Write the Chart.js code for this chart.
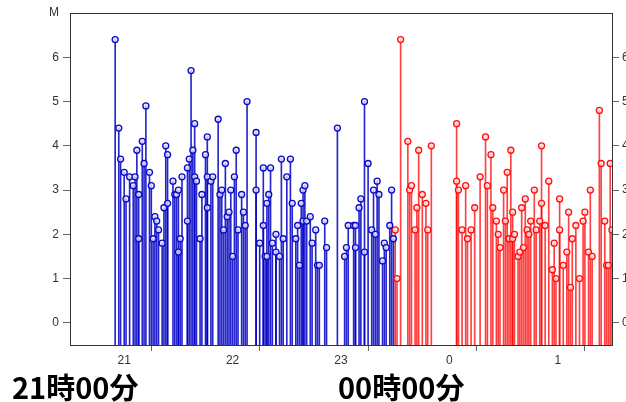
<!DOCTYPE html>
<html>
<head>
<meta charset="utf-8">
<script src="https://cdn.jsdelivr.net/npm/chart.js@4.4.0/dist/chart.umd.min.js"></script>
<style>
    body { margin: 0; background: #fff; }
    #wrap { position: relative; width: 626px; height: 402px; }
    .bigLabel {
        position: absolute;
        font-family: "Noto Sans CJK JP", sans-serif;
        font-weight: bold;
        font-size: 29px;
        line-height: 29px;
        color: #000;
        white-space: nowrap;
    }
</style>
</head>
<body>
<div id="wrap">
    <canvas id="myChartQuakes" width="626" height="402"></canvas>
    <div class="bigLabel" style="left: 12px; top: 372px;">21時00分</div>
    <div class="bigLabel" style="left: 338px; top: 372px;">00時00分</div>
</div>
<script>
//DATA
//blue: minutes after 21:00, red: minutes after 00:00
const blueMinutes = [25, 27, 28, 30, 31, 33, 35, 36, 37, 38, 38, 40, 41, 42, 44, 45, 46, 47, 48, 49,
    51, 52, 53, 54, 54, 57, 58, 59, 60, 60, 61, 62, 65, 65, 66, 67, 68, 69, 69, 70,
    72, 73, 75, 76, 76, 76, 78, 79, 82, 83, 84, 85, 86, 87, 88, 89, 90, 91, 92, 93,
    95, 96, 97, 98, 103, 103, 105, 107, 107, 108, 109, 109, 110, 111, 112, 114, 114, 116, 117, 118,
    120, 122, 123, 125, 126, 127, 128, 129, 129, 130, 131, 133, 134, 136, 137, 138, 141, 142, 148, 152,
    153, 154, 157, 158, 158, 160, 161, 163, 163, 165, 167, 168, 169, 170, 171, 173, 174, 175, 177, 178, 179];
const blueMagnitudes = [6.4, 4.4, 3.7, 3.4, 2.8, 3.3, 3.1, 3.3, 3.9, 2.9, 1.9, 4.1, 3.6, 4.9, 3.4, 3.1, 1.9, 2.4, 2.3, 2.1,
    1.8, 2.6, 4.0, 3.8, 2.7, 3.2, 2.9, 2.9, 3.0, 1.6, 1.9, 3.3, 3.5, 2.3, 3.7, 5.7, 3.9, 4.5, 3.3, 3.2,
    1.9, 2.9, 3.8, 4.2, 3.3, 2.6, 3.2, 3.3, 4.6, 2.9, 3.0, 2.1, 3.6, 2.4, 2.5, 3.0, 1.5, 3.3, 3.9, 2.1,
    2.9, 2.5, 2.2, 5.0, 4.3, 3.0, 1.8, 3.5, 2.2, 1.5, 2.7, 1.5, 2.9, 3.5, 1.8, 2.0, 1.6, 1.5, 3.7, 1.9,
    3.3, 3.7, 2.7, 1.9, 2.2, 1.3, 2.7, 3.0, 2.3, 3.1, 2.3, 2.4, 1.8, 2.1, 1.3, 1.3, 2.3, 1.7, 4.4, 1.5,
    1.7, 2.2, 2.2, 1.7, 2.2, 2.6, 2.8, 5.0, 1.6, 3.6, 2.1, 3.0, 2.0, 3.2, 2.9, 1.4, 1.8, 1.7, 2.2, 3.0, 1.9];
const redMinutes = [0, 1, 3, 7, 8, 9, 11, 12, 13, 15, 17, 18, 20, 34, 34, 35, 37, 39, 40, 42,
    44, 47, 50, 51, 53, 54, 56, 57, 58, 60, 61, 62, 63, 64, 65, 65, 66, 68, 69, 70,
    71, 72, 73, 74, 75, 77, 78, 80, 81, 81, 83, 85, 87, 88, 89, 91, 91, 93, 95, 96,
    97, 98, 100, 102, 104, 105, 107, 108, 109, 113, 114, 116, 117, 118, 119, 120];
const redMagnitudes = [2.1, 1.0, 6.4, 4.1, 3.0, 3.1, 2.1, 2.6, 3.9, 2.9, 2.7, 2.1, 4.0, 4.5, 3.2, 3.0, 2.1, 3.1, 1.9, 2.1,
    2.6, 3.3, 4.2, 3.1, 3.8, 2.6, 2.3, 2.0, 1.7, 3.0, 2.3, 3.4, 1.9, 3.9, 1.9, 2.5, 2.0, 1.5, 1.6, 2.6,
    1.7, 2.8, 2.1, 2.0, 2.3, 3.0, 2.1, 2.3, 4.0, 2.7, 2.2, 3.2, 1.2, 1.8, 1.0, 2.8, 2.1, 1.3, 1.6, 2.5,
    0.8, 1.9, 2.2, 1.0, 2.3, 2.5, 1.6, 3.0, 1.5, 4.8, 3.6, 2.3, 1.3, 1.3, 3.6, 2.1];
const hourLabels = ['21', '22', '23', '0', '1'];
const magnitudeTicks = [0, 1, 2, 3, 4, 5, 6];
const magnitudeTitle = 'M';

const axisMin = -0.5;
const axisMax = 7;
const redOffset = 180; //00:00 is 180 minutes after 21:00


//BUILD POINTS
const buildStems = (minutes, mags, offset) => {
    let points = [];
    for (let i = 0; i < minutes.length; i++) {
        points.push({ x: minutes[i] + offset, y: [axisMin, mags[i]] });
    }
    return points;
}

const buildMarkers = (minutes, mags, offset) => {
    let points = [];
    for (let i = 0; i < minutes.length; i++) {
        points.push({ x: minutes[i] + offset, y: mags[i] });
    }
    return points;
}


//FRAME AROUND PLOT AREA
const frameBox = {
    id: 'frameBox',
    afterDraw: (chart) => {
        const area = chart.chartArea;
        const c = chart.ctx;
        c.save();
        c.strokeStyle = '#333';
        c.lineWidth = 1;
        c.strokeRect(Math.round(area.left) + 0.5, Math.round(area.top) + 0.5,
            Math.round(area.right - area.left), Math.round(area.bottom - area.top));
        c.restore();
    }
}


//DRAW CHART
const ctx = document.getElementById('myChartQuakes');
const tickFont = { family: 'Liberation Sans', size: 12 };

new Chart(ctx, {
    type: 'bar',
    data: {
        datasets: [
            {
                type: 'scatter',
                data: buildMarkers(blueMinutes, blueMagnitudes, 0),
                borderColor: 'rgb(10, 10, 200)',
                backgroundColor: 'rgba(225, 225, 255, 0.8)',
                pointRadius: 3,
                pointBorderWidth: 1.3,
                order: 0
            },
            {
                type: 'scatter',
                data: buildMarkers(redMinutes, redMagnitudes, redOffset),
                borderColor: 'rgb(255, 15, 15)',
                backgroundColor: 'rgba(255, 225, 225, 0.8)',
                pointRadius: 3,
                pointBorderWidth: 1.3,
                order: 0
            },
            {
                data: buildStems(blueMinutes, blueMagnitudes, 0),
                backgroundColor: 'rgba(0, 0, 195, 0.85)',
                barThickness: 1,
                grouped: false,
                order: 1
            },
            {
                data: buildStems(redMinutes, redMagnitudes, redOffset),
                backgroundColor: 'rgba(255, 0, 0, 0.75)',
                barThickness: 1,
                grouped: false,
                order: 1
            }
        ]
    },
    options: {
        responsive: false,
        animation: false,
        layout: { padding: { top: 13, left: 0, right: 0, bottom: 0 } },
        plugins: {
            legend: { display: false },
            tooltip: { enabled: false }
        },
        scales: {
            x: {
                type: 'linear',
                offset: false,
                min: 0,
                max: 300,
                afterFit: (scale) => { scale.height = 57; },
                ticks: {
                    stepSize: 30,
                    autoSkip: false,
                    maxRotation: 0,
                    color: '#333',
                    font: tickFont,
                    padding: 2,
                    callback: (value) => {
                        if (value % 60 === 30) {
                            return hourLabels[Math.floor(value / 60)];
                        }
                        return '';
                    }
                },
                grid: {
                    drawOnChartArea: false,
                    tickLength: 6,
                    tickColor: (c) => (c.tick && c.tick.value % 60 === 0) ? '#666' : 'rgba(0,0,0,0)'
                },
                border: { color: '#444', width: 1 }
            },
            y: {
                position: 'left',
                min: axisMin,
                max: axisMax,
                afterFit: (scale) => { scale.width = 70; },
                ticks: {
                    stepSize: 1,
                    includeBounds: false,
                    color: '#333',
                    font: tickFont,
                    padding: 4,
                    callback: (value) => {
                        if (value === axisMax) return magnitudeTitle;
                        return magnitudeTicks.includes(value) ? String(value) : '';
                    }
                },
                grid: {
                    drawOnChartArea: false,
                    tickLength: 7,
                    tickColor: (c) => (c.tick && magnitudeTicks.includes(c.tick.value)) ? '#666' : 'rgba(0,0,0,0)'
                },
                border: { color: '#444', width: 1 }
            },
            y2: {
                position: 'right',
                min: axisMin,
                max: axisMax,
                afterFit: (scale) => { scale.width = 14; },
                ticks: {
                    stepSize: 1,
                    includeBounds: false,
                    color: '#333',
                    font: tickFont,
                    padding: 3,
                    callback: (value) => magnitudeTicks.includes(value) ? String(value) : ''
                },
                grid: {
                    drawOnChartArea: false,
                    tickLength: 7,
                    tickColor: (c) => (c.tick && magnitudeTicks.includes(c.tick.value)) ? '#666' : 'rgba(0,0,0,0)'
                },
                border: { color: '#444', width: 1 }
            }
        }
    },
    plugins: [frameBox]
});
</script>
</body>
</html>
